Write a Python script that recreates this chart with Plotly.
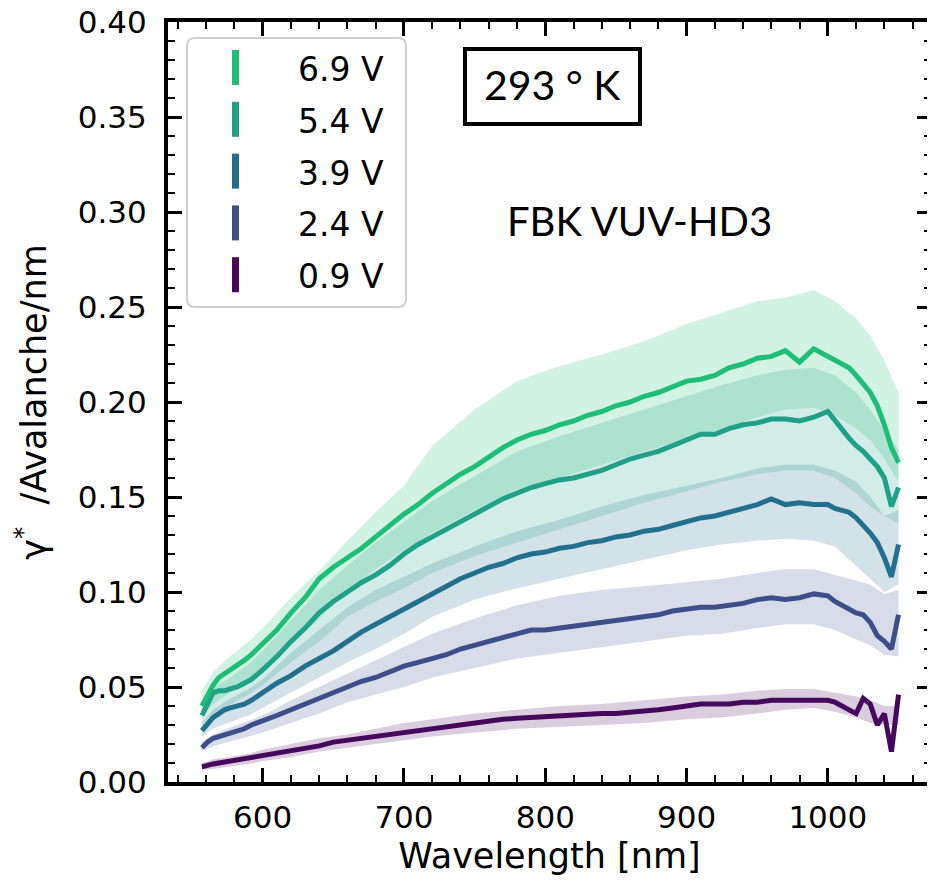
import plotly.graph_objects as go

# ---------------- data ----------------
wl = [557, 561, 565, 569, 573, 577, 582, 587, 592, 600, 610, 620, 630, 640, 650,
      660, 670, 680, 690, 700, 710, 720, 730, 740, 750, 760, 770, 780, 790, 800,
      810, 820, 830, 840, 850, 860, 870, 880, 890, 900, 910, 920, 930, 940, 950,
      960, 970, 980, 990, 1000, 1005, 1010, 1015, 1020, 1025, 1030, 1035, 1040, 1045, 1050]

v69 = [0.040, 0.046, 0.051, 0.055, 0.057, 0.059, 0.061, 0.064, 0.067, 0.073, 0.080, 0.089, 0.097, 0.107, 0.113,
       0.118, 0.123, 0.129, 0.135, 0.141, 0.146, 0.152, 0.157, 0.162, 0.166, 0.171, 0.176, 0.180, 0.183, 0.185,
       0.188, 0.190, 0.193, 0.195, 0.198, 0.200, 0.203, 0.205, 0.208, 0.211, 0.212, 0.214, 0.218, 0.220, 0.223,
       0.224, 0.227, 0.221, 0.228, 0.224, 0.222, 0.220, 0.218, 0.214, 0.209, 0.205, 0.198, 0.188, 0.176, 0.168]
v54 = [0.035, 0.041, 0.047, 0.048, 0.048, 0.049, 0.050, 0.052, 0.054, 0.059, 0.066, 0.074, 0.081, 0.089, 0.095,
       0.100, 0.105, 0.109, 0.114, 0.120, 0.125, 0.129, 0.133, 0.137, 0.141, 0.145, 0.149, 0.152, 0.155, 0.157,
       0.159, 0.160, 0.162, 0.164, 0.167, 0.170, 0.172, 0.174, 0.177, 0.180, 0.183, 0.183, 0.186, 0.188, 0.189,
       0.191, 0.191, 0.190, 0.192, 0.195, 0.190, 0.185, 0.181, 0.177, 0.174, 0.170, 0.166, 0.160, 0.145, 0.155]
v39 = [0.027, 0.031, 0.034, 0.036, 0.038, 0.039, 0.040, 0.041, 0.043, 0.047, 0.052, 0.056, 0.061, 0.065, 0.069,
       0.074, 0.079, 0.083, 0.087, 0.091, 0.095, 0.099, 0.103, 0.107, 0.110, 0.113, 0.115, 0.118, 0.120, 0.121,
       0.123, 0.124, 0.126, 0.127, 0.129, 0.130, 0.132, 0.133, 0.135, 0.137, 0.139, 0.140, 0.142, 0.144, 0.146,
       0.149, 0.146, 0.147, 0.146, 0.146, 0.144, 0.143, 0.142, 0.139, 0.135, 0.131, 0.126, 0.118, 0.108, 0.125]
v24 = [0.018, 0.021, 0.023, 0.024, 0.025, 0.026, 0.027, 0.028, 0.030, 0.032, 0.035, 0.038, 0.041, 0.044, 0.047,
       0.050, 0.053, 0.055, 0.058, 0.061, 0.063, 0.065, 0.067, 0.070, 0.072, 0.074, 0.076, 0.078, 0.080, 0.080,
       0.081, 0.082, 0.083, 0.084, 0.085, 0.086, 0.087, 0.088, 0.090, 0.091, 0.092, 0.092, 0.093, 0.094, 0.096,
       0.097, 0.096, 0.097, 0.099, 0.098, 0.095, 0.093, 0.091, 0.089, 0.088, 0.084, 0.077, 0.074, 0.070, 0.088]
v09 = [0.008, 0.009, 0.0095, 0.010, 0.0105, 0.011, 0.012, 0.0125, 0.013, 0.0145, 0.0155, 0.0165, 0.018, 0.019, 0.021,
       0.022, 0.0232, 0.024, 0.025, 0.026, 0.027, 0.0285, 0.029, 0.030, 0.031, 0.032, 0.033, 0.0335, 0.034, 0.0345,
       0.035, 0.035, 0.0355, 0.036, 0.036, 0.0365, 0.037, 0.038, 0.039, 0.040, 0.041, 0.041, 0.041, 0.042, 0.042,
       0.043, 0.043, 0.0435, 0.043, 0.043, 0.042, 0.040, 0.038, 0.036, 0.044, 0.041, 0.030, 0.036, 0.016, 0.046]

# systematic bands
bw = [557, 565, 575, 590, 600, 620, 640, 660, 680, 700, 720, 750, 780, 810, 840, 870,
      900, 925, 950, 970, 990, 1005, 1020, 1030, 1040, 1050]
up69 = [0.048, 0.058, 0.065, 0.074, 0.081, 0.097, 0.111, 0.127, 0.142, 0.156, 0.177, 0.196, 0.211, 0.219, 0.225, 0.232,
        0.241, 0.247, 0.253, 0.255, 0.259, 0.253, 0.244, 0.235, 0.222, 0.205]
lo69 = [0.034, 0.041, 0.046, 0.053, 0.059, 0.072, 0.086, 0.101, 0.112, 0.122, 0.131, 0.143, 0.152, 0.160, 0.167, 0.174,
        0.180, 0.186, 0.192, 0.196, 0.197, 0.193, 0.186, 0.180, 0.170, 0.158]
up54 = [0.040, 0.050, 0.054, 0.062, 0.069, 0.085, 0.101, 0.114, 0.126, 0.137, 0.148, 0.161, 0.174, 0.182, 0.189, 0.196,
        0.203, 0.209, 0.214, 0.217, 0.218, 0.214, 0.205, 0.196, 0.185, 0.175]
lo54 = [0.030, 0.036, 0.040, 0.046, 0.051, 0.063, 0.074, 0.087, 0.095, 0.102, 0.110, 0.119, 0.126, 0.133, 0.140, 0.147,
        0.153, 0.158, 0.162, 0.164, 0.164, 0.160, 0.152, 0.145, 0.140, 0.136]
up39 = [0.031, 0.038, 0.043, 0.049, 0.054, 0.068, 0.080, 0.092, 0.101, 0.108, 0.115, 0.124, 0.132, 0.138, 0.145, 0.151,
        0.156, 0.160, 0.165, 0.167, 0.167, 0.164, 0.158, 0.150, 0.140, 0.143]
lo39 = [0.024, 0.028, 0.031, 0.035, 0.039, 0.047, 0.055, 0.063, 0.070, 0.078, 0.087, 0.096, 0.102, 0.107, 0.112, 0.117,
        0.122, 0.125, 0.127, 0.128, 0.127, 0.124, 0.114, 0.107, 0.100, 0.104]
up24 = [0.021, 0.025, 0.028, 0.032, 0.035, 0.043, 0.050, 0.057, 0.064, 0.071, 0.078, 0.086, 0.093, 0.098, 0.101, 0.103,
        0.105, 0.107, 0.110, 0.112, 0.112, 0.109, 0.106, 0.104, 0.099, 0.101]
lo24 = [0.016, 0.019, 0.021, 0.024, 0.026, 0.031, 0.036, 0.042, 0.046, 0.050, 0.055, 0.060, 0.065, 0.068, 0.071, 0.074,
        0.077, 0.078, 0.081, 0.083, 0.083, 0.080, 0.075, 0.072, 0.067, 0.066]
up09 = [0.010, 0.012, 0.013, 0.015, 0.017, 0.020, 0.023, 0.025, 0.028, 0.031, 0.033, 0.036, 0.038, 0.040, 0.041, 0.043,
        0.045, 0.046, 0.048, 0.049, 0.049, 0.047, 0.045, 0.043, 0.040, 0.040]
lo09 = [0.006, 0.007, 0.008, 0.0095, 0.011, 0.013, 0.016, 0.018, 0.020, 0.022, 0.024, 0.026, 0.028, 0.029, 0.030, 0.031,
        0.033, 0.034, 0.036, 0.038, 0.039, 0.037, 0.034, 0.031, 0.030, 0.030]

labels = ["6.9 V", "5.4 V", "3.9 V", "2.4 V", "0.9 V"]
colors = ["#1fbe76", "#1fa087", "#22708d", "#3d4e8a", "#46085c"]
values = [v69, v54, v39, v24, v09]
uppers = [up69, up54, up39, up24, up09]
lowers = [lo69, lo54, lo39, lo24, lo09]

x_ticks = [600, 700, 800, 900, 1000]
y_ticks = [0.00, 0.05, 0.10, 0.15, 0.20, 0.25, 0.30, 0.35, 0.40]
y_ticktext = ["0.00", "0.05", "0.10", "0.15", "0.20", "0.25", "0.30", "0.35", "0.40"]
x_range = [533, 1073]
y_range = [0, 0.40]

# ---------------- layout geometry ----------------
# the page body adds an 8 px offset; sizes below compensate for it
OFF = 8
W, H = 935 - OFF, 887 - OFF
ML, MR, MT, MB = 160, 4, 14, 105
PX0, PX1 = OFF + ML, OFF + W - MR        # plot area in window pixels
PY0, PY1 = OFF + MT, OFF + H - MB


def fx(p):
    return (p - PX0) / (PX1 - PX0)


def fy(p):
    return (PY1 - p) / (PY1 - PY0)


def rgba(hexc, a):
    h = hexc.lstrip("#")
    r, g, b = int(h[0:2], 16), int(h[2:4], 16), int(h[4:6], 16)
    return f"rgba({r},{g},{b},{a})"


fig = go.Figure()

# bands (drawn first)
for lab, col, up, lo in reversed(list(zip(labels, colors, uppers, lowers))):
    fig.add_trace(go.Scatter(
        x=bw + bw[::-1], y=up + lo[::-1], fill="toself", mode="lines",
        line=dict(width=0, color=col), fillcolor=rgba(col, 0.2),
        hoverinfo="skip", showlegend=False))

# measured curves
for lab, col, val in reversed(list(zip(labels, colors, values))):
    fig.add_trace(go.Scatter(
        x=wl, y=val, mode="lines", name=lab,
        line=dict(color=col, width=5), showlegend=False))

# invisible anchor trace so the mirrored top/right axes get drawn
fig.add_trace(go.Scatter(x=[wl[0]], y=[v09[0]], xaxis="x2", yaxis="y2", mode="markers",
                         marker=dict(opacity=0), hoverinfo="skip", showlegend=False))

TF = "DejaVu Sans"
tick_common = dict(ticks="inside", ticklen=14, tickwidth=3, tickcolor="black",
                   showgrid=False, zeroline=False, showline=True, linewidth=4, linecolor="black")
minor_x = dict(dtick=20, ticks="inside", ticklen=7, tickwidth=2, tickcolor="black", showgrid=False)
minor_y = dict(dtick=0.01, ticks="inside", ticklen=7, tickwidth=2, tickcolor="black", showgrid=False)

fig.update_layout(
    xaxis=dict(range=x_range, tickmode="array", tickvals=x_ticks, minor=minor_x, ticklabelstandoff=5,
               ticklabeloverflow="allow",
               tickfont=dict(family=TF, size=31, color="black"),
               title=dict(text="Wavelength [nm]", font=dict(family=TF, size=35, color="black"), standoff=10),
               **tick_common),
    yaxis=dict(range=y_range, tickmode="array", tickvals=y_ticks, ticktext=y_ticktext, minor=minor_y,
               ticklabelstandoff=11, ticklabeloverflow="allow",
               tickfont=dict(family=TF, size=31, color="black"),
               title=dict(text="γ<sup>*</sup>  /Avalanche/nm", font=dict(family=TF, size=35, color="black"),
                          standoff=22),
               **tick_common),
    xaxis2=dict(range=x_range, overlaying="x", side="top", tickmode="array", tickvals=x_ticks, minor=minor_x,
                showticklabels=False, **tick_common),
    yaxis2=dict(range=y_range, overlaying="y", side="right", tickmode="array", tickvals=y_ticks, minor=minor_y,
                showticklabels=False, **tick_common),
)

shapes = []
annotations = []

# legend frame (rounded corners)
x0, x1, y0, y1, r = fx(187), fx(406), fy(307), fy(38), 8
rx, ry = r / (PX1 - PX0), r / (PY1 - PY0)
path = (f"M {x0+rx},{y1} L {x1-rx},{y1} Q {x1},{y1} {x1},{y1-ry} "
        f"L {x1},{y0+ry} Q {x1},{y0} {x1-rx},{y0} L {x0+rx},{y0} "
        f"Q {x0},{y0} {x0},{y0+ry} L {x0},{y1-ry} Q {x0},{y1} {x0+rx},{y1} Z")
shapes.append(dict(type="path", xref="paper", yref="paper", path=path,
                   line=dict(color="#d0d0d0", width=2), fillcolor="rgba(255,255,255,0.85)", layer="above"))
for i, (lab, col) in enumerate(zip(labels, colors)):
    cy = 67.5 + i * 51.8
    shapes.append(dict(type="line", xref="paper", yref="paper",
                       x0=fx(235.5), x1=fx(235.5), y0=fy(cy - 17.5), y1=fy(cy + 17.5),
                       line=dict(color=col, width=7), layer="above"))
    annotations.append(dict(xref="paper", yref="paper", x=fx(296), y=fy(cy + 2),
                            xanchor="left", yanchor="middle", text=lab, showarrow=False,
                            font=dict(family=TF, size=33, color="black")))

# temperature box and detector label
shapes.append(dict(type="rect", xref="paper", yref="paper",
                   x0=fx(465), x1=fx(640), y0=fy(124), y1=fy(49),
                   line=dict(color="black", width=4), fillcolor="rgba(0,0,0,0)", layer="above"))
annotations.append(dict(xref="paper", yref="paper", x=fx(552), y=fy(84),
                        xanchor="center", yanchor="middle", text="293 ° K", showarrow=False,
                        font=dict(family="Lato", size=41, color="black")))
annotations.append(dict(xref="paper", yref="paper", x=fx(639), y=fy(221),
                        xanchor="center", yanchor="middle", text="FBK VUV-HD3", showarrow=False,
                        font=dict(family="Lato", size=40, color="black")))

fig.update_layout(
    width=W, height=H, margin=dict(l=ML, r=MR, t=MT, b=MB, autoexpand=False),
    paper_bgcolor="white", plot_bgcolor="white",
    shapes=shapes, annotations=annotations, showlegend=False,
)

fig.write_html("out.html")
